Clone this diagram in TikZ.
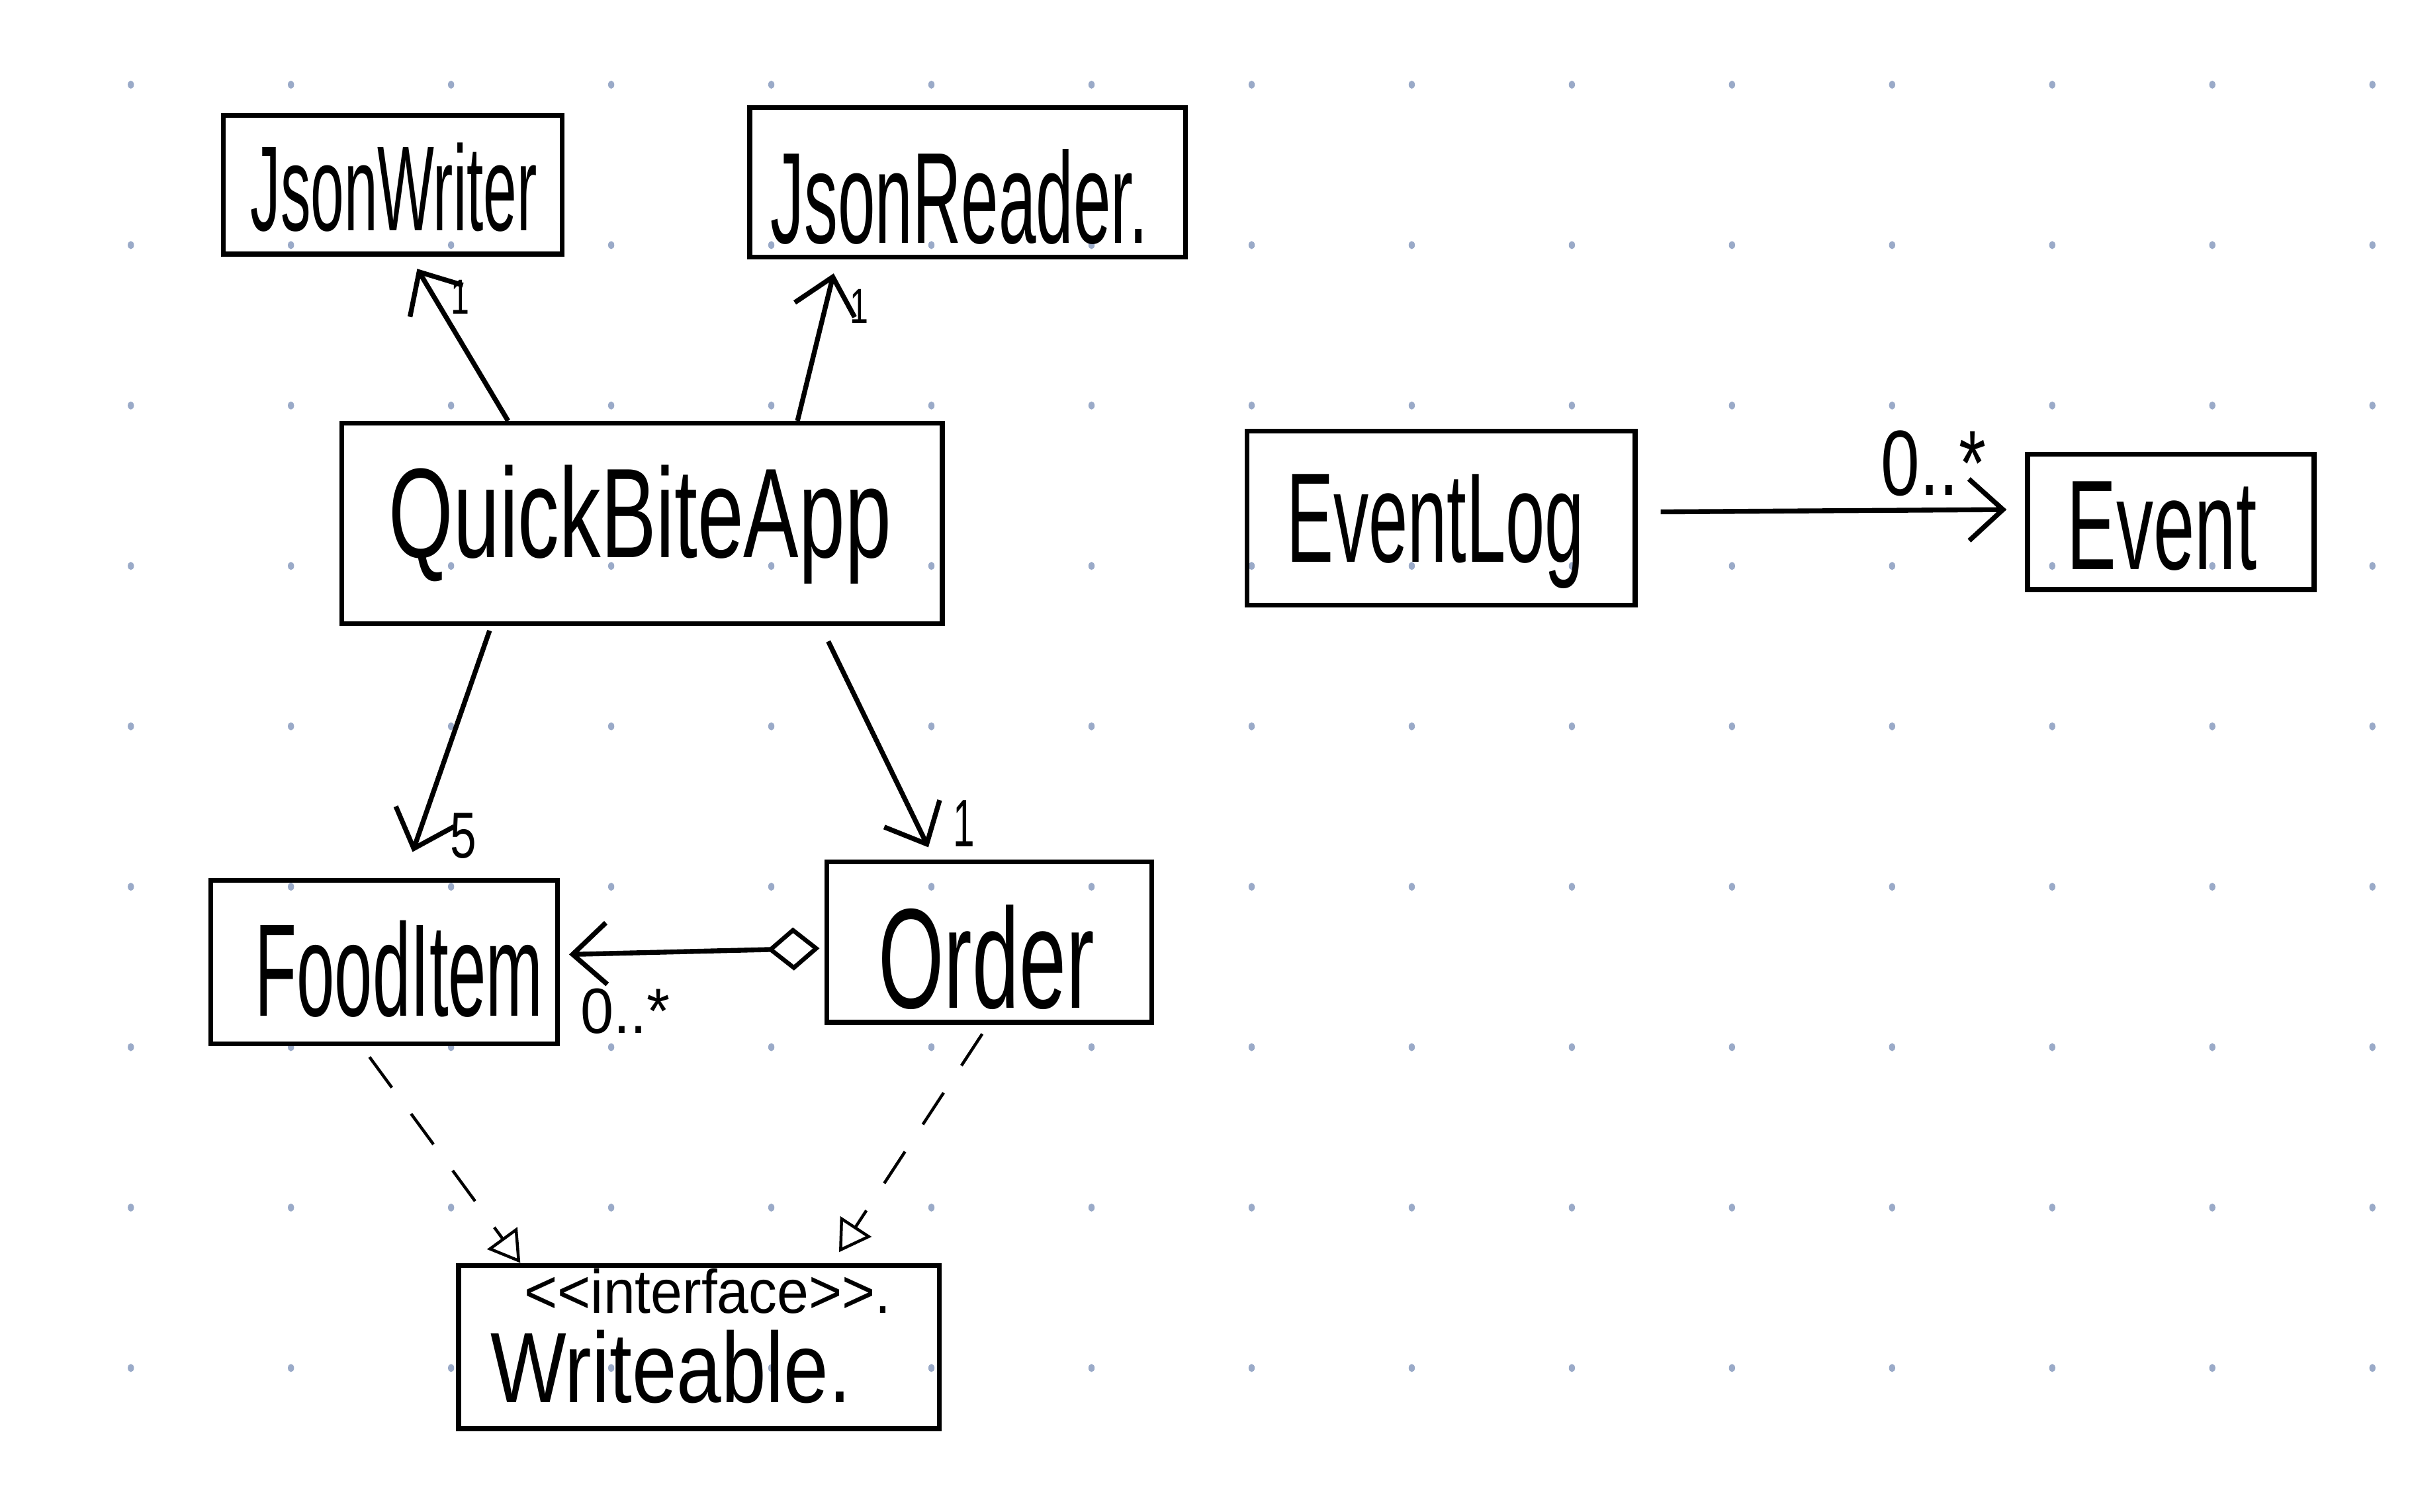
\documentclass[tikz,border=0pt]{standalone}
\usepackage{fontspec}
\setmainfont{Liberation Sans}
\usepackage{graphicx}
\usetikzlibrary{arrows.meta,calc}
\definecolor{dotc}{HTML}{9AAAC8}
\newcommand{\hw}[3]{\resizebox{#1mm}{#2mm}{#3}}
\tikzset{
  cls/.style={draw=black, line width=0.9pt, fill=none, inner sep=0pt},
  txt/.style={inner sep=0pt, anchor=base west},
  lbl/.style={inner sep=0pt},
  assoc/.style={draw=black, line width=0.9pt, -{Straight Barb[length=2.2mm,width=4mm,line width=0.9pt]}},
  aggr/.style={draw=black, line width=0.9pt, {Diamond[open,length=3.4mm,width=2.8mm,line width=0.8pt]}-{Straight Barb[length=2.2mm,width=4mm,line width=0.9pt]}},
  realize/.style={draw=black, line width=0.55pt, dash pattern=on 7pt off 6pt, -{Triangle[open,length=2mm,width=2.4mm,line width=0.55pt]}},
}
\begin{document}
\begin{tikzpicture}[x=0.01cm,y=0.01cm]
\useasboundingbox (0,0) rectangle (1568,-982);
\fill[white] (0,0) rectangle (1568,-982);
% dot grid
\foreach \i in {0,...,14}{
  \foreach \j in {0,...,8}{
    \fill[dotc] ({85+\i*104},{-(55+\j*104.2)}) ellipse [x radius=0.02cm, y radius=0.026cm];
  }
}
% class boxes
\node[cls, minimum width=2.20cm, minimum height=0.90cm] (jw) at (255,-120) {};
\node[cls, minimum width=2.83cm, minimum height=0.97cm] (jr) at (628.5,-118.5) {};
\node[cls, minimum width=3.90cm, minimum height=1.30cm] (qba) at (417,-340) {};
\node[cls, minimum width=2.52cm, minimum height=1.13cm] (el) at (936,-336.5) {};
\node[cls, minimum width=1.86cm, minimum height=0.88cm] (ev) at (1410,-339) {};
\node[cls, minimum width=2.25cm, minimum height=1.06cm] (fi) at (249.5,-625) {};
\node[cls, minimum width=2.11cm, minimum height=1.04cm] (ord) at (642.5,-612) {};
\node[cls, minimum width=3.12cm, minimum height=1.06cm] (wr) at (454,-875) {};
% class names
\node[txt] (jwT) at (162,-150) {\hw{18.6}{5.7}{JsonWriter}};
\node[txt] (jrT) at (500,-158) {\hw{24.5}{6.1}{JsonReader.}};
\node[txt] (qbaT) at (252,-362) {\hw{32.6}{6.0}{QuickBiteApp}};
\node[txt] (elT) at (835,-365) {\hw{19.3}{5.7}{EventLog}};
\node[txt] (evT) at (1342,-370) {\hw{12.3}{5.7}{Event}};
\node[txt] (fiT) at (165,-660) {\hw{18.7}{6.2}{FoodItem}};
\node[txt] (ordT) at (570,-655) {\hw{14.0}{6.7}{Order}};
\node[txt] (stT) at (340,-853) {\hw{23.8}{2.9}{<\kern0pt<\kern0pt interface>\kern0pt>\kern0pt.}};
\node[txt] (wrT) at (318,-911) {\hw{23.4}{4.7}{Writeable.}};
% associations
\draw[assoc] ($(qba.north)+(-87,0)$) -- ($(jw.south)+(16,-8)$);
\draw[assoc] ($(qba.north)+(101,0)$) -- ($(jr.south)+(-87,-9)$);
\draw[assoc] ($(qba.south)+(-99,-3)$) -- ($(fi.north)+(18.5,17)$);
\draw[assoc] ($(qba.south)+(121,-10)$) -- ($(ord.north)+(-39.5,8)$);
\draw[aggr] ($(ord.west)+(-3,-4)$) -- ($(fi.east)+(6,5)$);
\draw[assoc] ($(el.east)+(15,4)$) -- ($(ev.west)+(-12,8)$);
% realizations
\draw[realize] ($(fi.south)+(-9.5,-7)$) -- ($(wr.north)+(-116,0)$);
\draw[realize] ($(ord.south)+(-4.5,-6)$) -- ($(wr.north)+(91,7)$);
% multiplicities
\node[lbl] (m1) at (299,-193) {\hw{1.2}{2.2}{1}};
\node[lbl] (m2) at (558,-199) {\hw{1.2}{2.2}{1}};
\node[lbl] (m3) at (301,-543) {\hw{1.7}{2.9}{5}};
\node[lbl] (m4) at (626,-535) {\hw{1.4}{3.0}{1}};
\node[lbl] (m5) at (406,-657) {\hw{5.8}{2.9}{0..*}};
\node[lbl] (m6) at (1256,-301) {\hw{6.8}{4.2}{0..*}};
\end{tikzpicture}
\end{document}
